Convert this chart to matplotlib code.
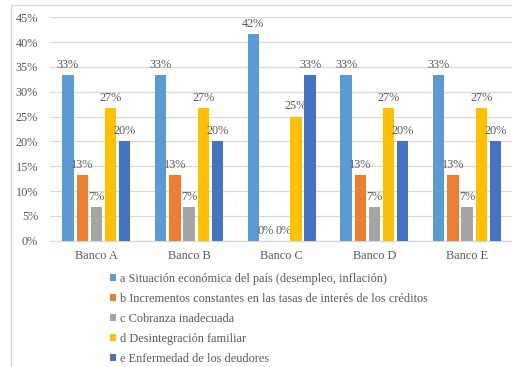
import matplotlib
matplotlib.use("Agg")
import matplotlib.pyplot as plt
from matplotlib.patches import Patch
from matplotlib.lines import Line2D
import numpy as np

banks = ["Banco A", "Banco B", "Banco C", "Banco D", "Banco E"]
series_names = [
    "a Situación económica del país (desempleo, inflación)",
    "b Incrementos constantes en las tasas de interés de los créditos",
    "c Cobranza inadecuada",
    "d Desintegración familiar",
    "e Enfermedad de los deudores",
]
colors = ["#5B9BD5", "#ED7D31", "#A5A5A5", "#FFC000", "#4472C4"]

situacion = [33.3, 33.3, 41.7, 33.3, 33.3]
incrementos = [13.3, 13.3, 0.0, 13.3, 13.3]
cobranza = [6.7, 6.7, 0.0, 6.7, 6.7]
desintegracion = [26.7, 26.7, 25.0, 26.7, 26.7]
enfermedad = [20.0, 20.0, 33.3, 20.0, 20.0]
series = [situacion, incrementos, cobranza, desintegracion, enfermedad]

yticks = [0, 5, 10, 15, 20, 25, 30, 35, 40, 45]

plt.rcParams["font.family"] = ["Liberation Serif", "DejaVu Serif"]
text_color = "#595959"
grid_color = "#D9D9D9"
fs = 8.8

W, H = 512, 367
fig = plt.figure(figsize=(W / 100, H / 100), dpi=100)
ax = fig.add_axes([50 / W, (H - 240.7) / H, 463.5 / W, 223.4 / H])

x = np.arange(len(banks))
bw = 0.122
pitch = 0.153
for i, (vals, col) in enumerate(zip(series, colors)):
    pos = x + (i - 2) * pitch
    bars = ax.bar(pos, vals, width=bw, color=col, zorder=3)
    for b, v in zip(bars, vals):
        # neighbouring zero labels sit side by side; nudge them apart a touch
        dx = 0
        if v == 0:
            dx = -1.2 if i == 1 else 1.2
        ax.annotate(f"{v:.0f}%", (b.get_x() + b.get_width() / 2, v),
                    xytext=(dx, 3), textcoords="offset points",
                    ha="center", va="bottom", fontsize=fs, color=text_color)

ax.set_xlim(-0.5, len(banks) - 0.5)
ax.set_ylim(0, 45)
ax.set_yticks(yticks)
ax.set_yticklabels([f"{t}%" for t in yticks])
ax.set_xticks(x)
ax.set_xticklabels(banks)
ax.tick_params(axis="both", length=0, labelsize=fs, labelcolor=text_color)
ax.tick_params(axis="y", pad=8.6)
ax.tick_params(axis="x", pad=7)
ax.grid(axis="y", color=grid_color, linewidth=0.9, zorder=0)
for s in ["top", "right", "left"]:
    ax.spines[s].set_visible(False)
ax.spines["bottom"].set_color(grid_color)
ax.spines["bottom"].set_linewidth(0.9)

handles = [Patch(facecolor=c, edgecolor="none") for c in colors]
leg = fig.legend(handles, series_names, loc="upper left",
                 bbox_to_anchor=(110 / W, 1 - 273 / H), ncol=1, frameon=False,
                 fontsize=fs, handlelength=0.5, handleheight=0.5,
                 handletextpad=0.35, labelspacing=0.66, borderaxespad=0,
                 borderpad=0)
for t in leg.get_texts():
    t.set_color(text_color)

# chart area frame
fig.add_artist(Line2D([11 / W, 1.0], [1 - 5 / H, 1 - 5 / H],
                      color=grid_color, linewidth=1.0))
fig.add_artist(Line2D([11 / W, 11 / W], [0, 1 - 5 / H],
                      color=grid_color, linewidth=1.0))

fig.savefig("out.png", dpi=100)
